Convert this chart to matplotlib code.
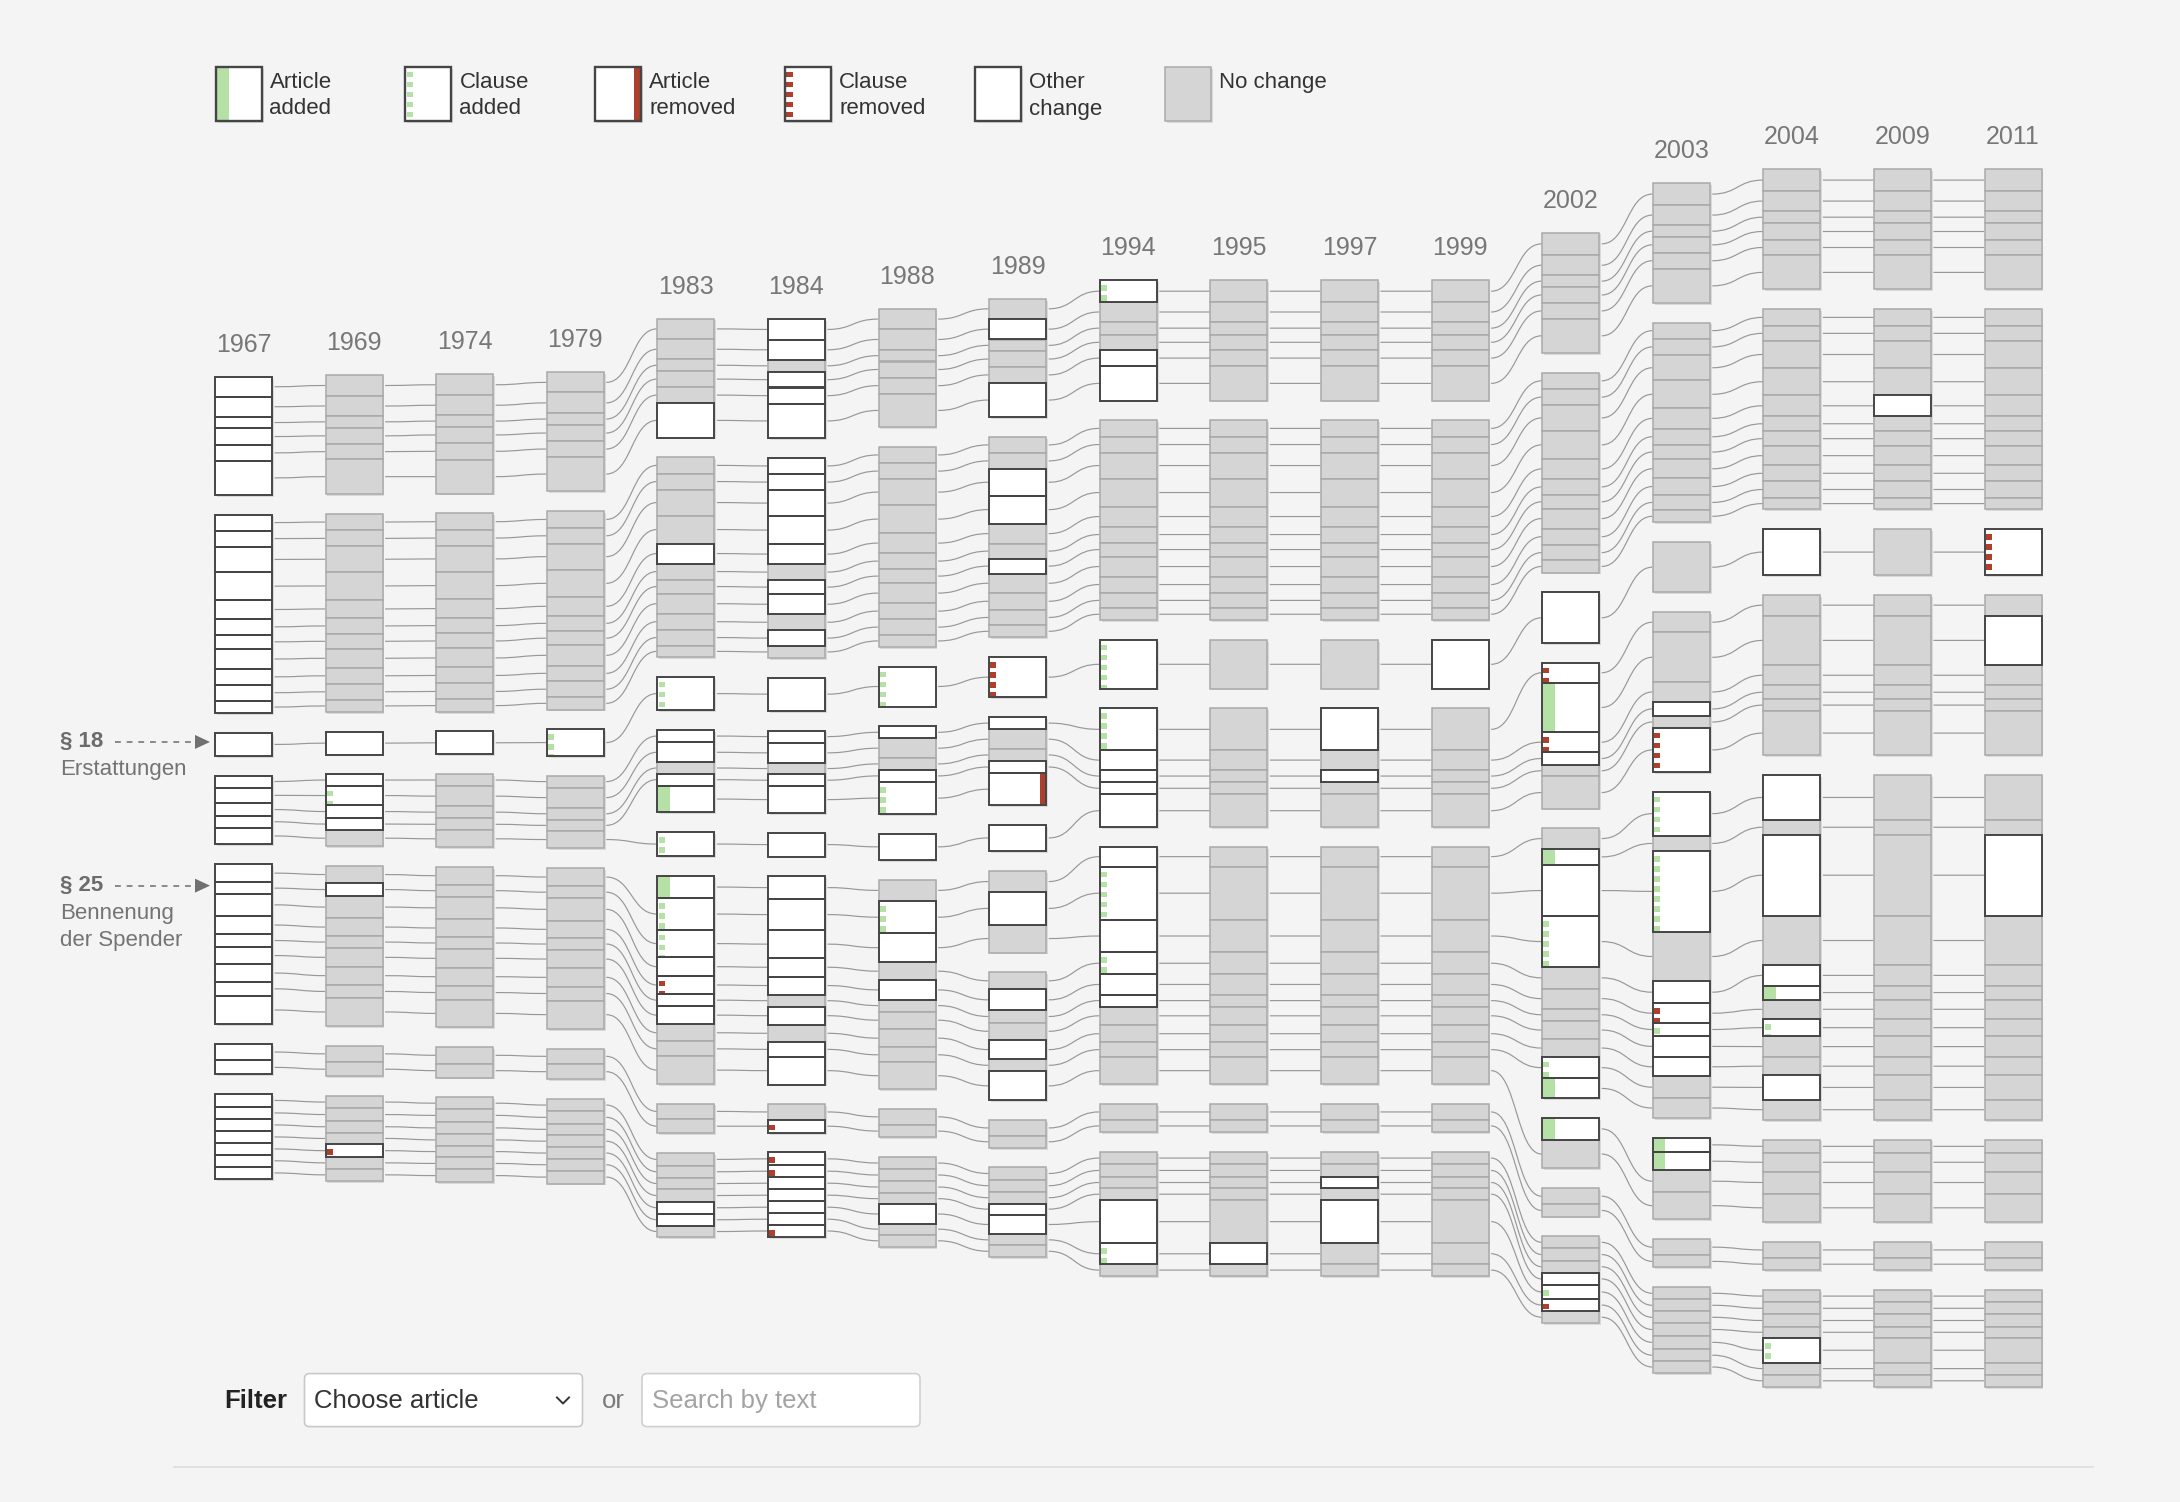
import matplotlib
matplotlib.use("Agg")
import matplotlib.pyplot as plt
from matplotlib.patches import Rectangle, PathPatch, FancyBboxPatch
from matplotlib.path import Path

plt.rcParams["font.family"] = ["Liberation Sans", "DejaVu Sans"]

# Versions of the law (columns)
YEARS = ["1967", "1969", "1974", "1979", "1983", "1984", "1988", "1989", "1994",
         "1995", "1997", "1999", "2002", "2003", "2004", "2009", "2011"]

# Article heights (text length) per section, and change status per article:
# n = no change, o = other change, a = article added, c = clause added,
# r = article removed, x = clause removed
H_1967 = [[19.7, 20.3, 11.3, 16.7, 16.0, 34.0],
          [16.0, 16.0, 25.7, 27.7, 19.0, 15.7, 14.3, 20.0, 15.7, 16.0, 12.7],
          [22.7],
          [12.0, 15.7, 12.7, 11.7, 16.7],
          [18.3, 11.7, 21.7, 18.7, 12.3, 17.7, 17.3, 14.3, 28.0],
          [16.7, 14.0],
          [12.7, 12.3, 11.7, 12.3, 11.7, 12.0, 12.3]]
S_1967 = ["oooooo", "ooooooooooo", "o", "ooooo", "ooooooooo", "oo", "ooooooo"]

H_1969 = [[21.0, 20.0, 11.7, 16.3, 15.3, 34.7],
          [16.7, 16.0, 25.7, 27.7, 18.3, 15.7, 15.0, 19.0, 16.0, 16.0, 12.3],
          [22.7],
          [11.7, 19.3, 12.7, 12.3, 16.0],
          [17.3, 12.7, 22.3, 17.7, 12.3, 18.3, 18.3, 13.3, 27.7],
          [16.7, 14.0],
          [12.3, 12.7, 11.7, 11.7, 12.7, 11.7, 12.3]]
S_1969 = ["nnnnnn", "nnnnnnnnnnn", "o", "ocoon", "nonnnnnnn", "nn", "nnnnxnn"]

H_1974 = [[21.0, 20.0, 11.7, 16.0, 16.7, 34.0],
          [16.7, 16.0, 25.7, 27.7, 18.3, 15.7, 15.0, 19.0, 16.0, 16.0, 12.3],
          [22.7],
          [12.3, 20.0, 12.0, 12.3, 16.7],
          [17.7, 12.3, 22.0, 18.3, 11.7, 19.0, 17.7, 14.0, 27.7],
          [16.7, 14.0],
          [11.7, 12.7, 12.3, 11.7, 11.7, 12.0, 12.3]]
S_1974 = ["nnnnnn", "nnnnnnnnnnn", "o", "nnnnn", "nnnnnnnnn", "nn", "nnnnnnn"]

H_1979 = [[20.0, 21.0, 11.3, 16.7, 15.3, 34.7],
          [16.7, 16.0, 25.7, 27.7, 18.3, 15.7, 14.0, 20.3, 15.7, 16.0, 12.3],
          [26.7],
          [12.0, 20.0, 12.3, 11.0, 17.3],
          [18.3, 12.0, 22.3, 17.7, 11.7, 18.3, 18.3, 14.0, 28.3],
          [15.7, 15.0],
          [12.3, 12.3, 11.7, 12.0, 11.7, 11.7, 13.0]]
S_1979 = ["nnnnnn", "nnnnnnnnnnn", "c", "nnnnn", "nnnnnnnnn", "nn", "nnnnnnn"]

H_1983 = [[20.7, 20.0, 12.0, 15.7, 16.3, 34.3],
          [16.3, 16.0, 26.0, 28.0, 20.0, 16.0, 14.0, 20.3, 15.7, 16.0, 11.7],
          [33.3],
          [12.2, 20.3, 11.1, 12.2, 26.6],
          [24.0],
          [22.6, 31.4, 27.7, 18.5, 18.1, 12.2, 17.8, 17.4, 14.8, 27.7],
          [15.5, 14.1],
          [12.9, 11.8, 11.8, 12.2, 12.2, 11.8, 11.8]]
S_1983 = ["nnnnno", "nnnnonnnnnn", "c", "oonoa", "c", "accoxoonnn", "nn", "nnnnoon"]

H_1984 = [[20.7, 20.0, 12.0, 15.7, 16.3, 34.3],
          [16.3, 16.0, 26.0, 28.0, 20.0, 16.0, 14.0, 20.3, 15.7, 16.0, 11.7],
          [33.3],
          [12.2, 20.3, 11.1, 12.2, 26.6],
          [24.0],
          [22.6, 31.4, 27.7, 18.5, 18.1, 12.2, 17.8, 17.4, 14.8, 27.7],
          [15.5, 13.0],
          [12.9, 11.8, 12.2, 11.8, 12.2, 11.8, 11.8]]
S_1984 = ["oonooo", "ooooonoonon", "o", "oonoo", "o", "ooooononoo", "nx", "xxoooox"]

H_1988 = [[20.0, 20.7, 11.7, 16.0, 16.3, 33.3],
          [16.3, 16.0, 26.0, 28.0, 20.0, 16.0, 14.0, 20.0, 16.0, 16.0, 11.7],
          [40.0],
          [12.2, 19.6, 11.8, 12.2, 32.2],
          [25.9],
          [21.8, 31.8, 29.2, 17.8, 19.6, 11.8, 17.4, 18.5, 14.8, 27.0],
          [15.9, 12.6],
          [11.8, 12.2, 11.8, 11.5, 19.2, 11.1, 12.2]]
S_1988 = ["nnnnnn", "nnnnnnnnnnn", "c", "onnoc", "o", "ncononnnnn", "nn", "nnnnonn"]

H_1989 = [[20.0, 20.7, 11.7, 15.7, 16.0, 34.3],
          [16.0, 16.0, 26.7, 28.0, 20.0, 15.0, 15.0, 19.3, 16.7, 15.7, 12.0],
          [40.3],
          [12.2, 20.0, 11.5, 12.6, 31.8],
          [26.3],
          [21.5, 32.2, 28.1],
          [17.0, 21.1, 12.2, 17.4, 19.2, 12.2, 28.9],
          [15.9, 11.8],
          [12.2, 12.2, 11.8, 11.1, 19.6, 11.1, 11.8]]
S_1989 = ["nonnno", "nnoonnonnnn", "x", "onnor", "o", "non", "nonnono", "nn", "nnnoonn"]

H_1994 = [[22.3, 19.3, 13.0, 15.3, 16.3, 34.3],
          [16.3, 16.0, 26.0, 28.0, 20.0, 16.0, 14.0, 20.0, 16.0, 15.7, 12.0],
          [48.7],
          [42.0, 19.5, 12.4, 12.1, 32.7],
          [19.8, 53.3, 32.3, 22.2, 20.2, 12.1, 18.3, 17.5, 14.4, 27.6],
          [15.6, 12.4],
          [12.4, 12.4, 11.7, 11.7, 43.2, 21.0, 11.7]]
S_1994 = ["cnnnoo", "nnnnnnnnnnn", "c", "coooo", "ococoonnnn", "nn", "nnnnocn"]

H_1995 = H_1994
S_1995 = ["nnnnnn", "nnnnnnnnnnn", "n", "nnnnn", "nnnnnnnnnn", "nn", "nnnnnon"]
H_1997 = H_1994
S_1997 = ["nnnnnn", "nnnnnnnnnnn", "n", "ononn", "nnnnnnnnnn", "nn", "nnononn"]
H_1999 = H_1994
S_1999 = ["nnnnnn", "nnnnnnnnnnn", "o", "nnnnn", "nnnnnnnnnn", "nn", "nnnnnnn"]

H_2002 = [[22.4, 20.4, 11.4, 16.3, 15.5, 34.3],
          [16.3, 16.3, 25.3, 28.6, 19.6, 16.3, 13.5, 20.0, 16.3, 15.5, 12.2],
          [51.0],
          [19.6, 49.8, 19.6, 13.1, 11.4, 32.2],
          [20.4, 16.3, 51.0, 51.0, 21.6, 20.0, 12.2, 18.4, 17.6, 21.6, 20.0],
          [21.6, 28.6],
          [16.3, 12.2],
          [12.2, 12.2, 12.2, 12.2, 13.9, 12.2, 12.2]]
S_2002 = ["nnnnnn", "nnnnnnnnnnn", "o", "xaxonn", "naocnnnnnca", "an", "nn", "nnnocxn"]

H_2003 = [[21.6, 20.4, 11.8, 15.5, 16.3, 33.9],
          [16.3, 16.3, 25.3, 27.8, 20.4, 16.3, 14.3, 19.2, 16.3, 15.5, 12.2],
          [50.2],
          [20.4, 49.8, 19.6, 14.3, 11.8, 44.0],
          [44.1, 15.5, 80.4, 49.8, 21.6, 20.4, 12.2, 21.6, 19.2, 21.6, 20.0],
          [14.3, 18.4, 21.6, 27.3],
          [16.3, 12.2],
          [12.2, 11.8, 12.2, 12.2, 13.5, 12.2, 11.4]]
S_2003 = ["nnnnnn", "nnnnnnnnnnn", "n", "nnnonx", "cncnoxcoonn", "aann", "nn", "nnnnnnn"]

H_2004 = [[22.0, 19.9, 12.4, 16.2, 15.8, 34.0],
          [16.6, 15.3, 27.0, 27.4, 20.7, 15.3, 14.5, 19.5, 15.8, 16.6, 11.6],
          [46.0],
          [20.7, 49.8, 19.9, 14.1, 11.6, 44.4],
          [44.9, 14.7, 81.2, 49.4, 20.4, 13.9, 19.6, 17.1, 20.8, 18.4, 24.1, 20.4],
          [13.5, 18.4, 22.0, 28.6],
          [16.3, 12.2],
          [12.2, 12.2, 12.2, 11.4, 24.5, 12.2, 12.2]]
S_2004 = ["nnnnnn", "nnnnnnnnnnn", "o", "nnnnnn", "ononoancnnon", "nnnn", "nn", "nnnncnn"]

H_2009 = H_2004
S_2009 = ["nnnnnn", "nnnnonnnnnn", "n", "nnnnnn", "nnnnnnnnnnnn", "nnnn", "nn", "nnnnnnn"]
H_2011 = H_2004
S_2011 = ["nnnnnn", "nnnnnnnnnnn", "x", "nonnnn", "nnonnnnnnnnn", "nnnn", "nn", "nnnnnnn"]

COLUMNS = [(H_1967, S_1967), (H_1969, S_1969), (H_1974, S_1974), (H_1979, S_1979),
           (H_1983, S_1983), (H_1984, S_1984), (H_1988, S_1988), (H_1989, S_1989),
           (H_1994, S_1994), (H_1995, S_1995), (H_1997, S_1997), (H_1999, S_1999),
           (H_2002, S_2002), (H_2003, S_2003), (H_2004, S_2004), (H_2009, S_2009),
           (H_2011, S_2011)]

LEGEND_LABELS = [["Article", "added"], ["Clause", "added"], ["Article", "removed"],
                 ["Clause", "removed"], ["Other", "change"], ["No change"]]
LEGEND_STATES = ["a", "c", "r", "x", "o", "n"]

# highlighted articles: (label, subtitle lines, section index, article index) in 1967
NOTES = [("§ 18", ["Erstattungen"], 2, 0),
         ("§ 25", ["Bennenung", "der Spender"], 4, 1)]

# ---------------------------------------------------------------- style
W, H = 2180, 1502
BG = "#f4f4f4"
GRAY_FILL = "#d5d5d5"
GRAY_EDGE = "#a9a9a9"
DARK_EDGE = "#454545"
GREEN = "#b6e1a6"
RED = "#ad3f2d"
LINE = "#989898"
TXT = "#777777"

X0 = 215.0     # left edge of first column
DX = 110.6     # column spacing
BOX_W = 57.0
GAP = 19.7     # gap between sections
MID_Y = 778.0  # columns are centred on this line

fig = plt.figure(figsize=(W / 100, H / 100), dpi=100, facecolor=BG)
ax = fig.add_axes([0, 0, 1, 1])
ax.set_xlim(0, W)
ax.set_ylim(H, 0)
ax.axis("off")
ax.set_facecolor(BG)


def draw_box(x, y, w, h, s, z, edge_lw=1.4, strip=12, dot_w=6):
    if s == "n":
        ax.add_patch(Rectangle((x, y), w, h, fc=GRAY_FILL, ec=GRAY_EDGE, lw=1.1, zorder=z))
        return
    ax.add_patch(Rectangle((x, y), w, h, fc="white", ec="none", zorder=z))
    if s == "a":
        ax.add_patch(Rectangle((x + 0.5, y), strip, h, fc=GREEN, ec="none", zorder=z + 0.1))
    elif s == "r":
        ax.add_patch(Rectangle((x + w - strip / 2 - 0.5, y), strip / 2, h, fc=RED, ec="none",
                               zorder=z + 0.1))
    elif s in "cx":
        col = GREEN if s == "c" else RED
        yy = y + 5
        while yy < y + h - 1.5:
            hh = min(5.5, y + h - 1 - yy)
            ax.add_patch(Rectangle((x + 1.2, yy), dot_w, hh, fc=col, ec="none", zorder=z + 0.1))
            yy += 10
    ax.add_patch(Rectangle((x, y), w, h, fc="none", ec=DARK_EDGE, lw=edge_lw, zorder=z + 0.2))


# ---------------------------------------------------------------- layout
layout = []
for ci, (heights, states) in enumerate(COLUMNS):
    total = sum(sum(g) for g in heights) + GAP * (len(heights) - 1)
    top = MID_Y - total / 2
    x = X0 + ci * DX
    y = top
    arts, groups = [], []
    for gh, gs in zip(heights, states):
        gtop = y
        grp = []
        for h, s in zip(gh, gs):
            a = dict(x=x, y=y, h=h, s=s)
            arts.append(a)
            grp.append(a)
            y += h
        groups.append((gtop, y, grp))
        y += GAP
    layout.append(dict(x=x, top=top, arts=arts, groups=groups))

# connecting lines between versions
for a, b in zip(layout[:-1], layout[1:]):
    src = [t for t in a["arts"] if t["s"] != "r"]
    dst = [t for t in b["arts"] if t["s"] != "a"]
    for p, q in zip(src, dst):
        x1 = p["x"] + BOX_W + 2.5
        x2 = q["x"] - 0.5
        y1 = p["y"] + p["h"] / 2
        y2 = q["y"] + q["h"] / 2
        mx = (x1 + x2) / 2
        path = Path([(x1, y1), (mx, y1), (mx, y2), (x2, y2)],
                    [Path.MOVETO, Path.CURVE4, Path.CURVE4, Path.CURVE4])
        ax.add_patch(PathPatch(path, fill=False, ec=LINE, lw=0.85, zorder=1))

# article boxes
for col, year in zip(layout, YEARS):
    for gtop, gbot, grp in col["groups"]:
        ax.add_patch(Rectangle((col["x"] + 1.8, gtop + 1.8), BOX_W, gbot - gtop,
                               fc="#d9d9d9", ec="none", zorder=2))
    for t in col["arts"]:
        if t["s"] == "n":
            draw_box(t["x"], t["y"], BOX_W, t["h"], "n", 3)
    for t in col["arts"]:
        if t["s"] != "n":
            draw_box(t["x"], t["y"], BOX_W, t["h"], t["s"], 4)
    ax.text(col["x"] + BOX_W / 2, col["top"] - 32, year, ha="center", va="center",
            fontsize=18, color=TXT)

# legend
for i, (lab, st) in enumerate(zip(LEGEND_LABELS, LEGEND_STATES)):
    lx = 215.5 + i * 189.9
    ax.add_patch(Rectangle((lx + 2, 68.7), 46, 54, fc="#d9d9d9", ec="none", zorder=2))
    draw_box(lx, 66.7, 46, 54, st, 3, edge_lw=1.7, strip=13, dot_w=6.5)
    for j, line in enumerate(lab):
        ax.text(lx + 54, 82.5 + j * 26.5, line, ha="left", va="center", fontsize=16,
                color="#333333")

# annotations on the first version
first = layout[0]
for label, sub, gi, ai in NOTES:
    art = first["groups"][gi][2][ai]
    yc = art["y"] + art["h"] / 2 - 2.5
    ax.text(60, yc, label, ha="left", va="center", fontsize=16, fontweight="bold", color="#6c6c6c")
    ax.plot([115, 196], [yc, yc], ls=(0, (3, 3)), color="#8a8a8a", lw=1.4, zorder=2)
    ax.add_patch(plt.Polygon([[195, yc - 7], [195, yc + 7], [210, yc]], closed=True,
                             fc="#707070", ec="none", zorder=2))
    for j, line in enumerate(sub):
        ax.text(60, yc + 27.5 + j * 27.5, line, ha="left", va="center", fontsize=16,
                color="#747474")

# filter controls
ax.text(224, 1401, "Filter", ha="left", va="center", fontsize=18.5, fontweight="bold",
        color="#222222")
ax.add_patch(FancyBboxPatch((304.5, 1373.6), 278, 53,
                            boxstyle="round,pad=0,rounding_size=5",
                            fc="white", ec="#c9c9c9", lw=1.2, zorder=2))
ax.text(314, 1401, "Choose article", ha="left", va="center", fontsize=18.5, color="#333333",
        zorder=3)
ax.plot([557, 563, 569], [1397.5, 1403.5, 1397.5], color="#333333", lw=1.4, zorder=3)
ax.text(602, 1401, "or", ha="left", va="center", fontsize=18.5, color="#7a7a7a")
ax.add_patch(FancyBboxPatch((642, 1373.6), 278, 53,
                            boxstyle="round,pad=0,rounding_size=5",
                            fc="white", ec="#d0d0d0", lw=1.2, zorder=2))
ax.text(652, 1401, "Search by text", ha="left", va="center", fontsize=18.5, color="#a3a3a3",
        zorder=3)
ax.plot([174, 2093], [1467, 1467], color="#dcdcdc", lw=1.2)

fig.savefig("out.png", dpi=100, facecolor=BG)
